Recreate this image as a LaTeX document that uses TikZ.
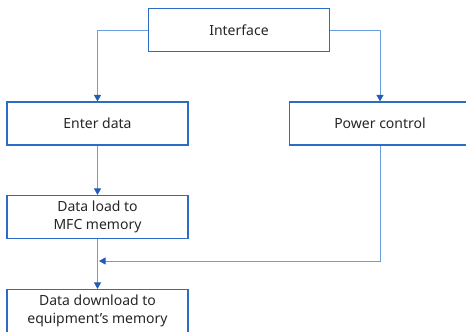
\documentclass[tikz,border=0pt]{standalone}
\usepackage{fontspec}
\setmainfont{Noto Sans}
\usetikzlibrary{arrows.meta}
\definecolor{linec}{HTML}{6A9FDB}
\definecolor{boxc}{HTML}{2D6CC4}
\definecolor{tipc}{HTML}{1F5DB8}
\begin{document}
\begin{tikzpicture}[x=1pt,y=-1pt,
  box/.style={draw=boxc,line width=1.2pt,minimum width=181pt,minimum height=43pt,align=center,inner sep=0pt,font=\fontsize{14}{18}\selectfont,text=black!85},
  conn/.style={draw=linec,line width=1pt,-{Triangle[width=7pt,length=6.5pt,color=tipc,fill=tipc]}}]
\useasboundingbox (0,0) rectangle (466,332);
\clip (0,0) rectangle (466,332);
\node[box] (iface) at (239,30) {Interface};
\node[box] (enter) at (97.5,123.5) {Enter data};
\node[box] (power) at (380,123.5) {Power control};
\node[box] (load) at (97.5,217) {Data load to\\MFC memory};
\node[box] (down) at (97.5,311) {Data download to\\equipment’s memory};
\coordinate (join) at (99,261);
\draw[conn] (iface.west) -| (enter.north);
\draw[conn] (iface.east) -| (power.north);
\draw[conn] (enter.south) -- (load.north);
\draw[conn] (load.south) -- (down.north);
\draw[conn] (power.south) |- (join);
\end{tikzpicture}
\end{document}
